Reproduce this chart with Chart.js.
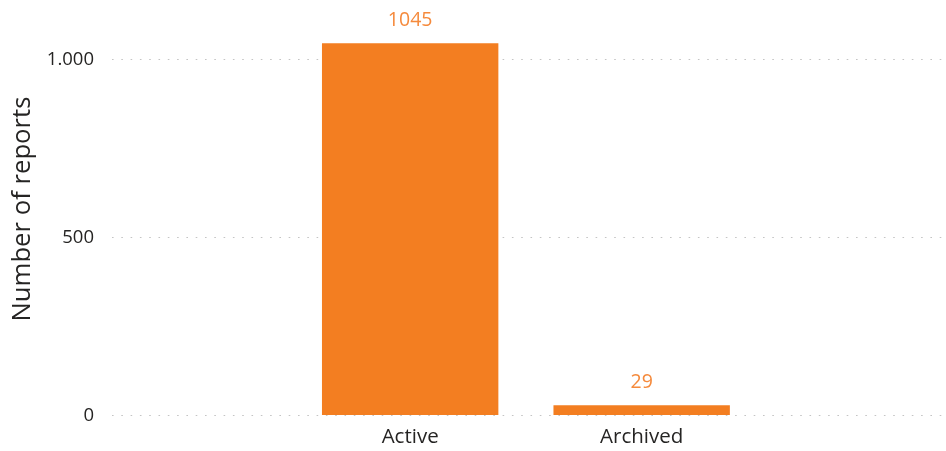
<!DOCTYPE html>
<html>
<head>
<meta charset="utf-8">
<script src="https://cdn.jsdelivr.net/npm/chart.js@4/dist/chart.umd.min.js"></script>
<style>
  html, body { margin: 0; padding: 0; background: #ffffff; }
  #wrap { width: 946px; height: 451px; }
</style>
</head>
<body>
<div id="wrap"><canvas id="c" width="946" height="451"></canvas></div>
<script>
const categories = ['Active', 'Archived'];
const reportCounts = [1045, 29];
const yTickValues = [0, 500, 1000];
const yAxisTitle = 'Number of reports';

function formatThousands(v) {
  return String(v).replace(/\B(?=(\d{3})+(?!\d))/g, '.');
}

const barColor = '#F37E21';
const labelColor = '#F58A3C';
const textColor = '#252423';
const FONT = "'Open Sans', 'Noto Sans', sans-serif";

const dataLabels = {
  id: 'dataLabels',
  afterDatasetsDraw(chart) {
    const ctx = chart.ctx;
    const meta = chart.getDatasetMeta(0);
    ctx.save();
    ctx.font = '19.5px ' + FONT;
    ctx.fillStyle = labelColor;
    ctx.textAlign = 'center';
    ctx.textBaseline = 'middle';
    meta.data.forEach((el, i) => {
      ctx.fillText(String(reportCounts[i]), el.x, el.y - 23);
    });
    ctx.restore();
  }
};

new Chart(document.getElementById('c'), {
  type: 'bar',
  data: {
    datasets: [{
      data: categories.map((c, i) => ({ x: i + 1, y: reportCounts[i] })),
      backgroundColor: barColor,
      borderWidth: 0,
      barPercentage: 0.762,
      categoryPercentage: 1.0
    }]
  },
  options: {
    responsive: false,
    animation: false,
    events: [],
    layout: { padding: { left: 0, right: 2, top: 2.5, bottom: 0 } },
    plugins: {
      legend: { display: false },
      tooltip: { enabled: false }
    },
    scales: {
      x: {
        type: 'linear',
        bounds: 'data',
        offset: false,
        min: -0.288,
        max: 3.306,
        afterBuildTicks(scale) {
          scale.ticks = categories.map((c, i) => ({ value: i + 1 }));
        },
        afterFit(scale) { scale.height = 35.5; scale.paddingLeft = 0; scale.paddingRight = 0; },
        ticks: {
          autoSkip: false,
          maxRotation: 0,
          padding: 9,
          color: textColor,
          font: { family: FONT, size: 20.5 },
          callback: (v) => categories[v - 1] ?? ''
        },
        grid: { display: false, drawTicks: false, offset: false },
        border: { display: false }
      },
      y: {
        min: 0,
        max: 1159.5,
        afterBuildTicks(scale) {
          scale.ticks = yTickValues.map(v => ({ value: v }));
        },
        afterFit(scale) { scale.width = 112; scale.paddingTop = 0; scale.paddingBottom = 0; },
        ticks: {
          padding: 18,
          color: textColor,
          font: { family: FONT, size: 18.5 },
          callback: (v) => formatThousands(v)
        },
        grid: {
          color: '#C4C4C4',
          lineWidth: 1,
          drawTicks: false,
          borderDash: [1.6, 7.7]
        },
        border: { display: false, dash: [1.6, 7.7] },
        title: {
          display: true,
          text: yAxisTitle,
          color: textColor,
          font: { family: FONT, size: 25.7 },
          padding: { top: 7, bottom: 0 }
        }
      }
    }
  },
  plugins: [dataLabels]
});
</script>
</body>
</html>
